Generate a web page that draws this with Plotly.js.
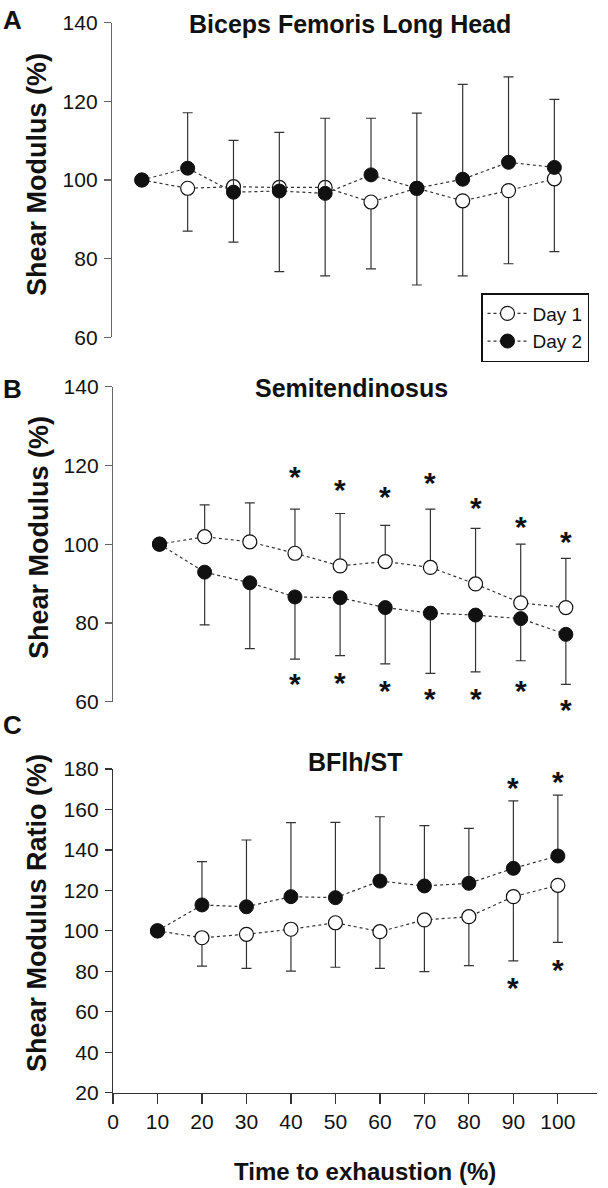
<!DOCTYPE html>
<html>
<head>
<meta charset="utf-8">
<script src="https://cdn.plot.ly/plotly-3.0.1.min.js"></script>
<style>html,body{margin:0;padding:0;background:#fff;}#chart{width:608px;height:1188px;}</style>
</head>
<body>
<div id="chart"></div>
<script>
// ---------- data ----------
const timePct = [10, 20, 30, 40, 50, 60, 70, 80, 90, 100];
const xTicks = [0, 10, 20, 30, 40, 50, 60, 70, 80, 90, 100];

// Panel A: Biceps Femoris Long Head
const A_day1 = [100, 97.9, 98.3, 98.1, 98.1, 94.4, 97.9, 94.7, 97.3, 100.3];
const A_day2 = [100, 103.0, 96.9, 97.2, 96.6, 101.3, 97.9, 100.2, 104.5, 103.2];
const A_day1_sdDown = [0, 10.9, 14.1, 21.4, 22.5, 17.0, 24.6, 19.1, 18.6, 18.5];
const A_day2_sdUp = [0, 14.1, 13.2, 14.9, 19.1, 14.4, 19.1, 24.1, 21.7, 17.3];

// Panel B: Semitendinosus
const B_day1 = [100, 101.9, 100.6, 97.7, 94.5, 95.6, 94.1, 89.9, 85.1, 83.9];
const B_day2 = [100, 92.9, 90.2, 86.6, 86.4, 83.9, 82.5, 82.0, 81.1, 77.1];
const B_day1_sdUp = [0, 8.1, 9.9, 11.2, 13.3, 9.2, 14.8, 14.1, 14.9, 12.5];
const B_day2_sdDown = [0, 13.4, 16.7, 15.8, 14.7, 14.3, 15.3, 14.4, 10.7, 12.7];
const B_starIdx = [3, 4, 5, 6, 7, 8, 9];          // time points 40..100
const B_starUpper = [118.6, 115.5, 113.6, 117.2, 110.8, 105.9, 102.1];
const B_starLower = [66.2, 66.4, 64.4, 62.3, 62.3, 64.4, 59.6];

// Panel C: BFlh/ST ratio
const C_day1 = [100, 96.6, 98.3, 100.8, 104.0, 99.6, 105.4, 107.0, 116.9, 122.5];
const C_day2 = [100, 112.8, 111.9, 116.9, 116.4, 124.6, 122.2, 123.5, 130.9, 137.0];
const C_day1_sdDown = [0, 14.0, 16.8, 20.7, 22.0, 18.1, 25.6, 24.2, 31.7, 28.2];
const C_day2_sdUp = [0, 21.4, 33.0, 36.6, 37.2, 31.8, 29.8, 27.2, 33.3, 30.1];
const C_starIdx = [8, 9];                          // time points 90, 100
const C_starUpper = [173.7, 177.0];
const C_starLower = [74.9, 84.0];

// ---------- styling helpers ----------
const FONT = 'Liberation Sans, Arial, Helvetica, sans-serif';
const INK = '#111';
const LINE = '#333';
const W = 608, H = 1188;
const px = v => v / W;
const py = v => 1 - v / H;
const zeros = timePct.map(() => 0);

function errBars(up, down) {
  return {type: 'data', symmetric: false, array: up, arrayminus: down,
          color: LINE, thickness: 1.2, width: 5};
}
function seriesTrace(name, y, up, down, xa, ya, filled, show) {
  return {
    x: timePct, y: y, xaxis: xa, yaxis: ya, name: name, showlegend: show,
    type: 'scatter', mode: 'lines+markers',
    line: {color: LINE, width: 1.2, dash: 'dot'},
    marker: {symbol: 'circle', size: 14, color: filled ? INK : '#fff',
             line: {color: INK, width: filled ? 1 : 1.2}},
    error_y: errBars(up, down)
  };
}

const traces = [
  seriesTrace('Day 1', A_day1, zeros, A_day1_sdDown, 'x', 'y', false, true),
  seriesTrace('Day 2', A_day2, A_day2_sdUp, zeros, 'x', 'y', true, true),
  seriesTrace('Day 1', B_day1, B_day1_sdUp, zeros, 'x2', 'y2', false, false),
  seriesTrace('Day 2', B_day2, zeros, B_day2_sdDown, 'x2', 'y2', true, false),
  seriesTrace('Day 1', C_day1, zeros, C_day1_sdDown, 'x3', 'y3', false, false),
  seriesTrace('Day 2', C_day2, C_day2_sdUp, zeros, 'x3', 'y3', true, false)
];

// ---------- annotations ----------
const annotations = [];
function txt(text, x, y, size, opts) {
  annotations.push(Object.assign({
    text: text, x: x, y: y, xref: 'paper', yref: 'paper', showarrow: false,
    xanchor: 'center', yanchor: 'middle', font: {family: FONT, size: size, color: INK}
  }, opts || {}));
}
// panel letters
txt('<b>A</b>', px(1), py(3), 26, {xanchor: 'left', yanchor: 'top'});
txt('<b>B</b>', px(1), py(372), 26, {xanchor: 'left', yanchor: 'top'});
txt('<b>C</b>', px(1), py(708), 26, {xanchor: 'left', yanchor: 'top'});
// panel titles
txt('<b>Biceps Femoris Long Head</b>', px(350), py(24), 25);
txt('<b>Semitendinosus</b>', px(351), py(388), 25);
txt('<b>BFlh/ST</b>', px(355), py(762), 25);
// y-axis titles
txt('<b>Shear Modulus (%)</b>', px(37), py(175), 27, {textangle: -90});
txt('<b>Shear Modulus (%)</b>', px(39), py(538), 27, {textangle: -90});
txt('<b>Shear Modulus Ratio (%)</b>', px(37), py(913), 27, {textangle: -90});
// x-axis title
txt('<b>Time to exhaustion (%)</b>', px(365), py(1171), 24);

// significance asterisks: text placed at (time, starY); an invisible arrow points at the data point
function stars(idx, starY, series, xr, yr) {
  idx.forEach((k, i) => annotations.push({
    text: '<b>*</b>', x: timePct[k], y: series[k], xref: xr, yref: yr,
    ax: timePct[k], ay: starY[i], axref: xr, ayref: yr,
    showarrow: true, arrowcolor: 'rgba(0,0,0,0)', arrowwidth: 0.1, arrowhead: 0,
    xanchor: 'center', yanchor: 'middle', yshift: -6,
    font: {family: FONT, size: 30, color: INK}
  }));
}
stars(B_starIdx, B_starUpper, B_day1, 'x2', 'y2');
stars(B_starIdx, B_starLower, B_day2, 'x2', 'y2');
stars(C_starIdx, C_starUpper, C_day2, 'x3', 'y3');
stars(C_starIdx, C_starLower, C_day1, 'x3', 'y3');

// ---------- axes ----------
const tickFont = {family: FONT, size: 21, color: INK};
function yAx(domain, range, dtick, anchor, color) {
  return {
    domain: domain, range: range, anchor: anchor, tick0: 0, dtick: dtick,
    showline: true, linecolor: color, linewidth: 1.2,
    ticks: 'outside', ticklen: 7, tickwidth: 1.2, tickcolor: color,
    showgrid: false, zeroline: false, tickfont: tickFont, ticklabelstandoff: 2
  };
}
function hiddenX(domain, range, anchor) {
  return {domain: domain, range: range, anchor: anchor, visible: false, showgrid: false, zeroline: false};
}

const layout = {
  width: W, height: H,
  margin: {l: 0, r: 0, t: 0, b: 0},
  paper_bgcolor: '#fff', plot_bgcolor: 'rgba(0,0,0,0)',
  font: {family: FONT, color: INK},
  showlegend: true,
  legend: {
    x: px(481), y: py(293), xanchor: 'left', yanchor: 'top',
    bordercolor: INK, borderwidth: 1.5, bgcolor: '#fff',
    font: {family: FONT, size: 19, color: INK},
    tracegroupgap: 0, itemwidth: 40
  },
  xaxis: hiddenX([px(112), px(597)], [3.5, 109.3], 'y'),
  yaxis: yAx([py(337.3), py(22.7)], [60, 140], 20, 'x', '#666'),
  xaxis2: hiddenX([px(113), px(597)], [-0.3, 106.9], 'y2'),
  yaxis2: yAx([py(701.7), py(386.7)], [60, 140], 20, 'x2', '#666'),
  xaxis3: {
    domain: [px(113), px(597)], range: [0, 108.8], anchor: 'y3',
    tickmode: 'array', tickvals: xTicks, ticktext: xTicks.map(String),
    showline: true, linecolor: '#333', linewidth: 1.2,
    ticks: 'outside', ticklen: 10, tickwidth: 1.2, tickcolor: '#333',
    showgrid: false, zeroline: false, tickfont: tickFont
  },
  yaxis3: yAx([py(1092.7), py(769)], [20, 180], 20, 'x3', '#333'),
  annotations: annotations
};

Plotly.newPlot('chart', traces, layout, {staticPlot: true, displayModeBar: false});
</script>
</body>
</html>
